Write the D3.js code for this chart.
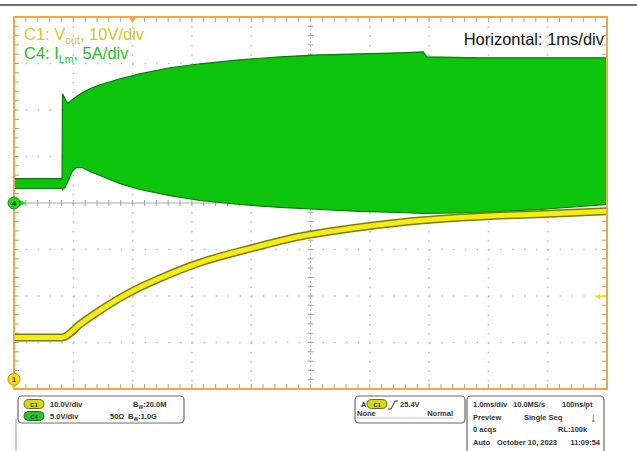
<!DOCTYPE html>
<html>
<head>
<meta charset="utf-8">
<script src="https://cdn.jsdelivr.net/npm/d3@7"></script>
<style>
  body { margin: 0; background: #fff; }
  svg { display: block; font-family: "Liberation Sans", Arial, sans-serif; }
</style>
</head>
<body>
<script>
// time in ms, current in A (C4), voltage in V (C1)
var ilmTime = [0, 0.81, 0.818, 0.86, 0.91, 0.98, 1.05, 1.15, 1.28, 1.45, 1.79, 2.12, 2.63, 3.14, 3.81, 4.49, 5.16, 5.83, 6.51, 6.90, 6.96, 7.86, 8.87, 10];
var ilmTop  = [2.63, 2.63, 11.75, 11.2, 10.7, 11.1, 11.43, 11.86, 12.29, 12.71, 13.36, 13.89, 14.54, 14.97, 15.4, 15.72, 15.93, 16.04, 16.15, 16.26, 15.72, 15.61, 15.61, 15.61];
var ilmBot  = [1.56, 1.56, 1.45, 1.66, 2.31, 3.38, 3.81, 3.81, 3.38, 2.95, 2.09, 1.45, 0.8, 0.27, -0.16, -0.48, -0.7, -0.91, -1.02, -1.13, -1.13, -1.02, -0.7, -0.16];

var voutTime = [0, 0.81, 1.11, 1.45, 1.96, 2.46, 3.14, 3.98, 4.82, 5.67, 6.51, 7.35, 8.2, 9.04, 10];
var voutVals = [9.0, 9.0, 11.8, 14.8, 18.7, 21.7, 25.1, 28.1, 30.7, 32.4, 33.7, 34.6, 35.2, 35.6, 36.1];

var c1Offset = -3.79;      // divisions, C1 ground marker
var triggerTime = 2.0;     // ms
var triggerArrow = 17.8;   // V, right edge arrow

var margin = {left: 14, top: 17, right: 30, bottom: 62},
    W = 637, H = 451,
    width = W - margin.left - margin.right,
    height = H - margin.top - margin.bottom;

var x = d3.scaleLinear().domain([0, 10]).range([0, width]);
var yDiv = d3.scaleLinear().domain([-4, 4]).range([height, 0]);
var yI = d3.scaleLinear().domain([-20, 20]).range([height, 0]);
var yV = d3.scaleLinear().domain([(-4 - c1Offset) * 10, (4 - c1Offset) * 10]).range([height, 0]);

var svg = d3.select("body").append("svg").attr("width", W).attr("height", H);

svg.append("line").attr("x1", 0).attr("x2", W).attr("y1", 5).attr("y2", 5)
  .attr("stroke", "#707070").attr("stroke-width", 2);

var g = svg.append("g").attr("transform", "translate(" + margin.left + "," + margin.top + ")");

// grid (dotted)
var gridX = d3.range(1, 10), gridY = d3.range(-3, 4);
var minorStepX = x(0.2) - x(0), minorStepY = yDiv(-4) - yDiv(-3.8);
g.selectAll("line.gx").data(gridX).enter().append("line")
  .attr("x1", d => x(d)).attr("x2", d => x(d)).attr("y1", 0).attr("y2", height)
  .attr("stroke", "#bcbcbc").attr("stroke-width", d => d === 5 ? 1 : 1.5)
  .attr("stroke-dasharray", d => d === 5 ? "1.5,2.5" : "1.5," + (minorStepY - 1.5));
g.selectAll("line.gy").data(gridY).enter().append("line")
  .attr("y1", d => yDiv(d)).attr("y2", d => yDiv(d)).attr("x1", 0).attr("x2", width)
  .attr("stroke", d => d === 0 ? "#a8a8a8" : "#bcbcbc").attr("stroke-width", d => d === 0 ? 1 : 1.5)
  .attr("stroke-dasharray", d => d === 0 ? null : "1.5," + (minorStepX - 1.5));

// minor ticks on center axes and borders
var minorX = d3.range(0, 50).map(i => i / 5), minorY = d3.range(-20, 21).map(i => i / 5);
var tickColor = "#a0a0a0";
g.selectAll("line.tcx").data(minorX).enter().append("line")
  .attr("x1", d => x(d)).attr("x2", d => x(d)).attr("y1", yDiv(0) - 3).attr("y2", yDiv(0) + 3)
  .attr("stroke", tickColor);
g.selectAll("line.tcy").data(minorY).enter().append("line")
  .attr("y1", d => yDiv(d)).attr("y2", d => yDiv(d)).attr("x1", x(5) - 3).attr("x2", x(5) + 3)
  .attr("stroke", tickColor);
g.selectAll("line.ttop").data(minorX).enter().append("line")
  .attr("x1", d => x(d)).attr("x2", d => x(d)).attr("y1", 0).attr("y2", 5).attr("stroke", tickColor);
g.selectAll("line.tbot").data(minorX).enter().append("line")
  .attr("x1", d => x(d)).attr("x2", d => x(d)).attr("y1", height - 5).attr("y2", height).attr("stroke", tickColor);
g.selectAll("line.tl").data(minorY).enter().append("line")
  .attr("y1", d => yDiv(d)).attr("y2", d => yDiv(d)).attr("x1", 0).attr("x2", 5).attr("stroke", tickColor);
g.selectAll("line.tr").data(minorY).enter().append("line")
  .attr("y1", d => yDiv(d)).attr("y2", d => yDiv(d)).attr("x1", width - 5).attr("x2", width).attr("stroke", tickColor);

// C4 inductor current (green envelope)
var ilm = ilmTime.map((t, i) => ({t: t, hi: ilmTop[i], lo: ilmBot[i]}));
var area = d3.area().x(d => x(d.t)).y0(d => yI(d.lo)).y1(d => yI(d.hi));
g.append("path").datum(ilm).attr("d", area)
  .attr("fill", "#0cc40c").attr("stroke", "#0a7a0a").attr("stroke-width", 1.2);

// C1 output voltage (yellow)
var vout = voutTime.map((t, i) => ({t: t, v: voutVals[i]}));
var vline = d3.line().x(d => x(d.t)).y(d => yV(d.v)).curve(d3.curveMonotoneX);
g.append("path").datum(vout).attr("d", vline).attr("fill", "none")
  .attr("stroke", "#7d7a10").attr("stroke-width", 8);
g.append("path").datum(vout).attr("d", vline).attr("fill", "none")
  .attr("stroke", "#f4ee10").attr("stroke-width", 5);

// border
g.append("rect").attr("width", width).attr("height", height).attr("fill", "none")
  .attr("stroke", "#f4a640").attr("stroke-width", 2);

// trigger position marker
g.append("path").attr("d", "M" + (x(triggerTime) - 4) + ",0 L" + (x(triggerTime) + 4) + ",0 L" + x(triggerTime) + ",6 Z")
  .attr("fill", "#f4a640");

// trigger level arrow on right
var ta = yV(triggerArrow);
g.append("line").attr("x1", width - 9).attr("x2", width - 1).attr("y1", ta).attr("y2", ta)
  .attr("stroke", "#f0e020").attr("stroke-width", 1.5);
g.append("path").attr("d", "M" + (width - 12) + "," + ta + " l5,-3 l0,6 Z").attr("fill", "#f0e020");

// channel markers
var m4 = yI(0);
g.append("path").attr("d", "M6," + (m4 - 3) + " l6,3 l-6,3 Z").attr("fill", "#2ad02a");
g.append("line").attr("x1", 4).attr("x2", 9).attr("y1", m4).attr("y2", m4).attr("stroke", "#2ad02a").attr("stroke-width", 1.5);
g.append("circle").attr("cx", 0).attr("cy", m4).attr("r", 6).attr("fill", "#26d026").attr("stroke", "#109010");
g.append("text").attr("x", 0).attr("y", m4 + 3).attr("text-anchor", "middle")
  .attr("font-size", 8).attr("font-weight", "bold").attr("fill", "#0a3a0a").text("4");

var m1 = yV(0);
g.append("path").attr("d", "M-3," + (m1 + 6) + " l6,0 l-3,4 Z").attr("fill", "#f0d020");
g.append("circle").attr("cx", 0).attr("cy", m1).attr("r", 6).attr("fill", "#f8d820").attr("stroke", "#c09000");
g.append("text").attr("x", 0).attr("y", m1 + 3).attr("text-anchor", "middle")
  .attr("font-size", 8).attr("font-weight", "bold").attr("fill", "#6a4a00").text("1");

// annotations
var t1 = svg.append("text").attr("x", 24).attr("y", 40).attr("font-size", 16.5).attr("fill", "#d2c81e");
t1.append("tspan").text("C1: V");
t1.append("tspan").attr("font-size", 10.5).attr("dy", 4).text("out");
t1.append("tspan").attr("dy", -4).text(", 10V/div");
var t4 = svg.append("text").attr("x", 24).attr("y", 59).attr("font-size", 16.5).attr("fill", "#2cba2c");
t4.append("tspan").text("C4: I");
t4.append("tspan").attr("font-size", 10.5).attr("dy", 4).text("Lm");
t4.append("tspan").attr("dy", -4).text(", 5A/div");
svg.append("text").attr("x", 604).attr("y", 45).attr("text-anchor", "end")
  .attr("font-size", 16.5).attr("fill", "#111").text("Horizontal: 1ms/div");

// status panel
var panel = svg.append("g").attr("font-size", 7.5).attr("font-weight", "bold").attr("fill", "#333");
panel.append("line").attr("x1", 16).attr("x2", 16).attr("y1", 419).attr("y2", H).attr("stroke", "#999");
function box(x0, y0, w, h) {
  panel.append("rect").attr("x", x0).attr("y", y0).attr("width", w).attr("height", h).attr("rx", 4)
    .attr("fill", "#fff").attr("stroke", "#6a6a6a").attr("stroke-width", 1.2);
}
function pill(cx, cy, label, fill, stroke) {
  panel.append("rect").attr("x", cx - 10).attr("y", cy - 4.5).attr("width", 20).attr("height", 9).attr("rx", 4.5)
    .attr("fill", fill).attr("stroke", stroke);
  panel.append("text").attr("x", cx).attr("y", cy + 2.5).attr("text-anchor", "middle")
    .attr("font-size", 6).attr("fill", "#333").text(label);
}
function txt(x0, y0, s, anchor) {
  panel.append("text").attr("x", x0).attr("y", y0).attr("text-anchor", anchor || "start").text(s);
}
box(18, 396, 166, 27);
pill(34, 404, "C1", "#d8d81a", "#6a6a10");
txt(50, 407, "10.0V/div");
var bw1 = panel.append("text").attr("x", 133).attr("y", 407); bw1.append("tspan").text("B");
bw1.append("tspan").attr("font-size", 5).attr("dy", 2).text("W"); bw1.append("tspan").attr("dy", -2).text(":20.0M");
pill(34, 416, "C4", "#2cc02c", "#1a6a1a");
txt(50, 419, "5.0V/div");
txt(110, 419, "50\u03a9");
var bw2 = panel.append("text").attr("x", 128).attr("y", 419); bw2.append("tspan").text("B");
bw2.append("tspan").attr("font-size", 5).attr("dy", 2).text("W"); bw2.append("tspan").attr("dy", -2).text(":1.0G");

box(355, 396, 110, 27);
txt(361, 407, "A");
pill(377, 404, "C1", "#d8d81a", "#6a6a10");
panel.append("path").attr("d", "M388,409 l3,0 l4,-8 l3,0").attr("fill", "none").attr("stroke", "#333").attr("stroke-width", 1);
txt(400, 407, "25.4V");
txt(357, 416, "None");
txt(453, 416, "Normal", "end");
panel.append("line").attr("x1", 357).attr("x2", 453).attr("y1", 418).attr("y2", 418).attr("stroke", "#999").attr("stroke-width", 0.6);

box(467, 396, 137, 60);
txt(473, 407, "1.0ms/div");
txt(513, 407, "10.0MS/s");
txt(562, 407, "100ns/pt");
txt(473, 420, "Preview");
txt(524, 420, "Single Seq");
panel.append("text").attr("x", 593).attr("y", 422).attr("text-anchor", "middle").attr("font-size", 12).text("\u2193");
txt(473, 432, "0 acqs");
txt(558, 432, "RL:100k");
txt(473, 445, "Auto");
txt(497, 445, "October 10, 2023");
txt(600, 445, "11:09:54", "end");
</script>
</body>
</html>
